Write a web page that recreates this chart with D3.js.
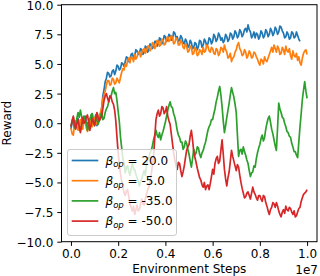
<!DOCTYPE html>
<html>
<head>
<meta charset="utf-8">
<script src="https://cdn.jsdelivr.net/npm/d3@7"></script>
<style>
  body { margin: 0; background: #fff; }
  svg text { font-family: "DejaVu Sans", sans-serif; }
</style>
</head>
<body>
<div id="chart"></div>
<script>
// logged every 5e4 environment steps
const steps = d3.range(0, 201).map(i => i * 5e4);

const betas = ['20.0', '-5.0', '-35.0', '-50.0'];
const colors = ['#1f77b4', '#ff7f0e', '#2ca02c', '#d62728'];

const reward20 = [
    -0.5, 0.1, 0.2, -0.4, -0.3, 0.3, 0.4, -0.2, -0.6, -0.1, 0.1, 0.5, 0.6, 0.1, 0.0, -0.5,
    -0.4, 0.3, 0.8, 0.2, 0.3, 0.7, -0.2, 0.1, 0.5, 0.4, 1.2, 2.3, 2.8, 3.5, 3.8, 4.3,
    4.2, 3.9, 4.0, 4.4, 4.5, 4.1, 4.4, 4.9, 4.8, 4.5, 4.6, 5.1, 5.0, 4.8, 5.2, 5.6,
    5.5, 5.2, 5.4, 5.8, 5.9, 5.5, 5.7, 6.2, 6.1, 5.8, 5.9, 6.3, 6.2, 5.8, 6.0, 6.5,
    6.4, 6.0, 6.2, 6.7, 6.6, 6.3, 6.5, 6.9, 6.9, 6.5, 6.7, 7.2, 7.1, 6.7, 6.9, 7.4,
    7.3, 6.9, 7.0, 7.5, 7.4, 7.0, 7.1, 7.7, 7.6, 7.2, 7.3, 6.9, 7.0, 7.4, 7.2, 6.8,
    6.7, 7.1, 6.9, 6.4, 6.5, 7.0, 6.8, 6.3, 6.4, 6.8, 6.7, 6.2, 6.5, 7.0, 6.9, 6.4,
    6.6, 7.1, 6.9, 6.5, 6.7, 7.2, 7.1, 6.7, 6.9, 7.5, 7.3, 6.9, 7.1, 7.6, 7.4, 7.0,
    7.2, 6.8, 7.0, 7.5, 7.3, 6.9, 7.1, 7.6, 7.5, 7.1, 7.3, 7.8, 7.6, 7.2, 7.4, 7.9,
    7.7, 7.3, 7.5, 7.9, 8.0, 7.7, 8.3, 7.9, 7.7, 7.2, 7.4, 7.7, 7.2, 7.6, 7.5, 7.1,
    7.3, 7.8, 7.6, 7.2, 7.4, 7.9, 7.7, 7.3, 7.5, 8.0, 7.8, 7.4, 7.6, 8.1, 7.9, 7.5,
    7.7, 8.2, 8.1, 7.8, 7.6, 7.2, 7.3, 7.7, 7.5, 7.1, 7.2, 7.7, 7.6, 7.2, 7.3, 7.7,
    7.4, 7.1, 6.9];

const rewardNeg5 = [
    -0.4, -0.9, -1.0, -0.2, 0.2, -0.3, -0.6, -0.1, 0.3, -0.4, -0.5, 0.3, 0.1, -0.4, -0.7, -0.1,
    0.4, -0.2, -0.3, 0.3, 0.5, -0.1, 0.0, 0.4, 0.7, 0.9, 1.3, 2.0, 2.4, 2.7, 3.2, 3.6,
    3.6, 3.2, 3.3, 3.8, 3.7, 3.3, 3.4, 3.8, 3.6, 3.4, 3.9, 4.3, 4.6, 4.5, 5.0, 4.8,
    5.3, 5.5, 5.1, 5.6, 5.5, 5.2, 5.8, 5.4, 5.6, 6.0, 6.0, 5.6, 5.9, 6.2, 6.3, 5.9,
    6.1, 6.5, 6.5, 6.1, 6.3, 6.8, 6.7, 6.3, 6.5, 7.0, 6.9, 6.5, 6.6, 7.1, 7.0, 6.6,
    6.7, 7.1, 7.3, 6.9, 7.0, 7.4, 7.2, 6.7, 6.8, 7.2, 7.1, 6.6, 6.6, 7.0, 6.8, 6.4,
    6.3, 6.7, 6.5, 6.0, 6.1, 6.5, 6.4, 5.8, 5.9, 6.4, 6.2, 5.7, 5.8, 6.2, 6.1, 5.8,
    6.4, 6.0, 6.1, 6.6, 6.5, 6.1, 6.0, 6.4, 6.3, 5.9, 5.8, 6.3, 6.2, 5.7, 5.9, 6.4,
    6.3, 6.0, 6.6, 6.2, 6.0, 5.5, 5.6, 5.9, 5.2, 5.5, 5.6, 6.0, 6.2, 6.6, 6.8, 6.3,
    6.1, 5.7, 5.8, 6.2, 6.0, 5.5, 5.7, 6.1, 5.9, 5.5, 5.6, 6.0, 5.9, 5.6, 5.4, 5.1,
    4.9, 5.4, 5.3, 5.0, 5.6, 5.3, 5.2, 5.5, 5.8, 6.1, 6.4, 6.0, 6.6, 6.3, 6.0, 6.5,
    6.3, 5.8, 5.9, 6.4, 6.2, 5.8, 6.5, 6.1, 6.0, 6.3, 5.7, 5.4, 6.1, 5.7, 5.6, 5.9,
    5.3, 5.6, 5.1, 4.9, 5.5, 5.9, 6.1, 6.2, 5.8];

const rewardNeg35 = [
    -0.3, 0.2, 0.5, -0.4, -0.2, 0.4, 0.9, 0.5, 1.1, 0.6, 0.0, 0.6, 0.4, 0.0, -0.6, -0.1,
    0.3, 0.7, 0.8, 0.1, -0.2, 0.3, 0.5, -0.1, 0.2, 0.6, 0.9, 0.3, 0.4, 0.9, 1.2, 1.4,
    1.8, 2.2, 2.3, 2.7, 3.0, 2.5, 2.6, 1.9, 1.0, 0.1, -1.2, -2.1, -3.0, -3.4, -4.2, -3.7,
    -3.6, -4.1, -4.4, -3.8, -3.4, -3.9, -3.9, -4.3, -4.6, -4.9, -5.3, -4.9, -4.7, -4.3, -4.0, -4.4,
    -3.5, -3.1, -2.9, -2.5, -2.3, -1.9, -1.4, -1.0, -0.6, -1.0, -1.2, -0.8, -1.4, -1.0, -0.7, -0.3,
    0.1, 0.6, 1.1, 1.5, 1.8, 1.4, 1.3, 0.8, 0.5, 0.0, -0.6, -1.0, -1.2, -1.6, -1.6, -2.2,
    -2.0, -1.5, -1.7, -2.2, -2.6, -3.2, -3.7, -3.0, -2.2, -2.7, -2.5, -2.0, -2.1, -2.6, -2.9, -2.5,
    -2.3, -1.9, -1.6, -1.1, -0.6, -0.3, -0.1, 0.3, 0.3, 0.8, 1.2, 1.8, 2.2, 2.7, 3.1, 2.4,
    1.4, 0.2, -0.8, -0.2, 0.5, 1.1, 1.7, 2.4, 3.0, 2.6, 2.2, 1.6, 0.9, -1.0, -2.8, -2.3,
    -2.2, -2.6, -2.0, -2.4, -2.7, -3.1, -3.4, -4.0, -4.5, -4.2, -4.1, -3.6, -3.7, -3.0, -2.5, -2.1,
    -1.8, -1.3, -1.0, -1.5, -1.2, -0.5, 0.0, 0.4, 0.6, 0.1, -0.5, -0.9, -1.4, -1.9, -2.3, -0.4,
    1.7, 1.2, 0.9, 0.5, 0.4, 0.0, -0.3, -0.7, -0.8, -1.1, -1.2, -1.7, -2.0, -2.4, -2.4, -2.7,
    -2.9, -1.6, -0.3, 0.8, 2.0, 2.8, 3.5, 2.7, 2.1];

const rewardNeg50 = [
    -0.3, 0.2, 0.6, 0.0, -0.5, -0.1, 0.3, -0.3, -0.8, -0.2, 0.5, 0.0, 0.1, 0.5, 0.7, 0.1,
    -0.6, -0.2, 0.4, 0.1, -0.2, 0.4, 0.9, 0.5, 0.2, 0.4, 0.6, 1.2, 1.9, 2.3, 2.5, 2.1,
    1.8, 2.3, 2.2, 1.8, 1.6, 1.1, 0.2, -1.2, -2.5, -3.5, -4.3, -4.9, -5.4, -5.9, -6.1, -5.7,
    -5.6, -6.2, -6.8, -7.1, -7.4, -7.0, -7.7, -7.3, -6.9, -7.4, -7.3, -6.8, -6.4, -6.8, -6.9, -6.4,
    -6.0, -5.6, -5.4, -4.9, -4.3, -3.6, -2.8, -1.2, 0.3, 0.8, 1.1, 0.6, 0.8, 1.4, 1.3, 0.8,
    1.0, 1.4, 0.6, 0.2, -0.1, -0.9, -1.7, -2.5, -3.1, -3.6, -3.9, -3.3, -3.4, -4.0, -4.5, -4.1,
    -3.6, -2.9, -2.3, -2.0, -1.8, -1.1, -0.6, -1.4, -2.4, -2.9, -3.3, -3.8, -4.2, -4.6, -4.8, -5.2,
    -5.4, -5.0, -5.6, -5.3, -5.2, -5.6, -5.1, -4.5, -3.9, -4.3, -3.4, -3.0, -2.8, -3.4, -3.2, -2.3,
    -1.4, -2.6, -3.9, -4.7, -5.3, -4.6, -4.1, -3.2, -2.3, -2.8, -3.2, -3.6, -4.0, -3.5, -3.7, -4.4,
    -5.0, -5.5, -5.9, -6.3, -6.2, -5.9, -5.8, -6.1, -6.4, -5.9, -5.4, -5.8, -6.0, -6.3, -6.5, -6.1,
    -6.1, -6.4, -6.6, -6.1, -6.2, -6.7, -7.0, -7.4, -7.7, -7.3, -7.1, -6.7, -6.8, -7.1, -6.7, -7.0,
    -7.4, -7.7, -7.9, -7.5, -7.3, -7.6, -7.0, -7.3, -7.4, -7.1, -7.2, -7.5, -7.7, -7.4, -7.9, -7.8,
    -7.5, -7.2, -7.1, -6.6, -6.3, -6.0, -5.9, -5.8, -5.6];

const series = [reward20, rewardNeg5, rewardNeg35, rewardNeg50];

const yTicks = [-10, -7.5, -5, -2.5, 0, 2.5, 5, 7.5, 10];
const xTicks = [0, 0.2e7, 0.4e7, 0.6e7, 0.8e7, 1.0e7];

const [svgWidth, svgHeight] = [320, 276];
const plot = { left: 61.5, right: 317, top: 4.7, bottom: 241.7 };

let svg = d3.select('#chart').append('svg')
    .attr('width', svgWidth)
    .attr('height', svgHeight);

let xScale = d3.scaleLinear().domain([-0.04e7, 1.042e7]).range([plot.left, plot.right]);
let yScale = d3.scaleLinear().domain([-10, 10]).range([plot.bottom, plot.top]);

let line = d3.line()
    .x((d, i) => xScale(steps[i]))
    .y(d => yScale(d));

svg.append('defs').append('clipPath').attr('id', 'clip')
    .append('rect')
    .attr('x', plot.left).attr('y', plot.top)
    .attr('width', plot.right - plot.left).attr('height', plot.bottom - plot.top);

let lines = svg.append('g').attr('clip-path', 'url(#clip)');
series.forEach((s, k) => {
    lines.append('path')
        .datum(s)
        .attr('d', line)
        .attr('fill', 'none')
        .attr('stroke', colors[k])
        .attr('stroke-width', 1.7)
        .attr('stroke-linejoin', 'round');
});

// axes
let yAxis = svg.append('g')
    .attr('transform', 'translate(' + plot.left + ',0)')
    .call(d3.axisLeft(yScale).tickValues(yTicks).tickSize(4.2).tickPadding(4)
        .tickFormat(d3.format('.1f')));
let xAxis = svg.append('g')
    .attr('transform', 'translate(0,' + plot.bottom + ')')
    .call(d3.axisBottom(xScale).tickValues(xTicks).tickSize(4.2).tickPadding(4)
        .tickFormat(d => (d / 1e7).toFixed(1)));

[xAxis, yAxis].forEach(a => {
    a.select('.domain').remove();
    a.selectAll('line').attr('stroke', '#000').attr('stroke-width', 1);
    a.selectAll('text').attr('font-size', 12).attr('fill', '#000')
        .attr('font-family', 'DejaVu Sans');
});
// center the digits on the tick like matplotlib does
yAxis.selectAll('text').attr('dy', '0.37em');

svg.append('rect')
    .attr('x', plot.left).attr('y', plot.top)
    .attr('width', plot.right - plot.left).attr('height', plot.bottom - plot.top)
    .attr('fill', 'none').attr('stroke', '#000').attr('stroke-width', 1);

// labels
svg.append('text')
    .attr('x', (plot.left + plot.right) / 2).attr('y', 273)
    .attr('text-anchor', 'middle').attr('font-size', 12)
    .text('Environment Steps');
svg.append('text')
    .attr('x', 318).attr('y', 274)
    .attr('text-anchor', 'end').attr('font-size', 12)
    .text('1e7');
svg.append('text')
    .attr('transform', 'translate(10.5,' + yScale(0) + ') rotate(-90)')
    .attr('text-anchor', 'middle').attr('font-size', 12)
    .text('Reward');

// legend
let legend = svg.append('g').attr('transform', 'translate(67,149)');
legend.append('rect')
    .attr('x', 0.5).attr('y', 0.5).attr('width', 109).attr('height', 86)
    .attr('rx', 2.5)
    .attr('fill', '#fff').attr('fill-opacity', 0.8)
    .attr('stroke', '#cccccc').attr('stroke-width', 1);

betas.forEach((b, k) => {
    let yy = 11.5 + k * 20.2;
    legend.append('line')
        .attr('x1', 4.7).attr('x2', 31.3).attr('y1', yy).attr('y2', yy)
        .attr('stroke', colors[k]).attr('stroke-width', 1.7);
    let t = legend.append('text')
        .attr('x', 38.5).attr('y', yy + 4.3)
        .attr('font-size', 12);
    t.append('tspan').attr('font-style', 'italic').text('β');
    t.append('tspan').attr('font-style', 'italic').attr('font-size', 8.5)
        .attr('dy', 2.6).text('op');
    t.append('tspan').attr('dy', -2.6).text(' = ' + b);
});
</script>
</body>
</html>
